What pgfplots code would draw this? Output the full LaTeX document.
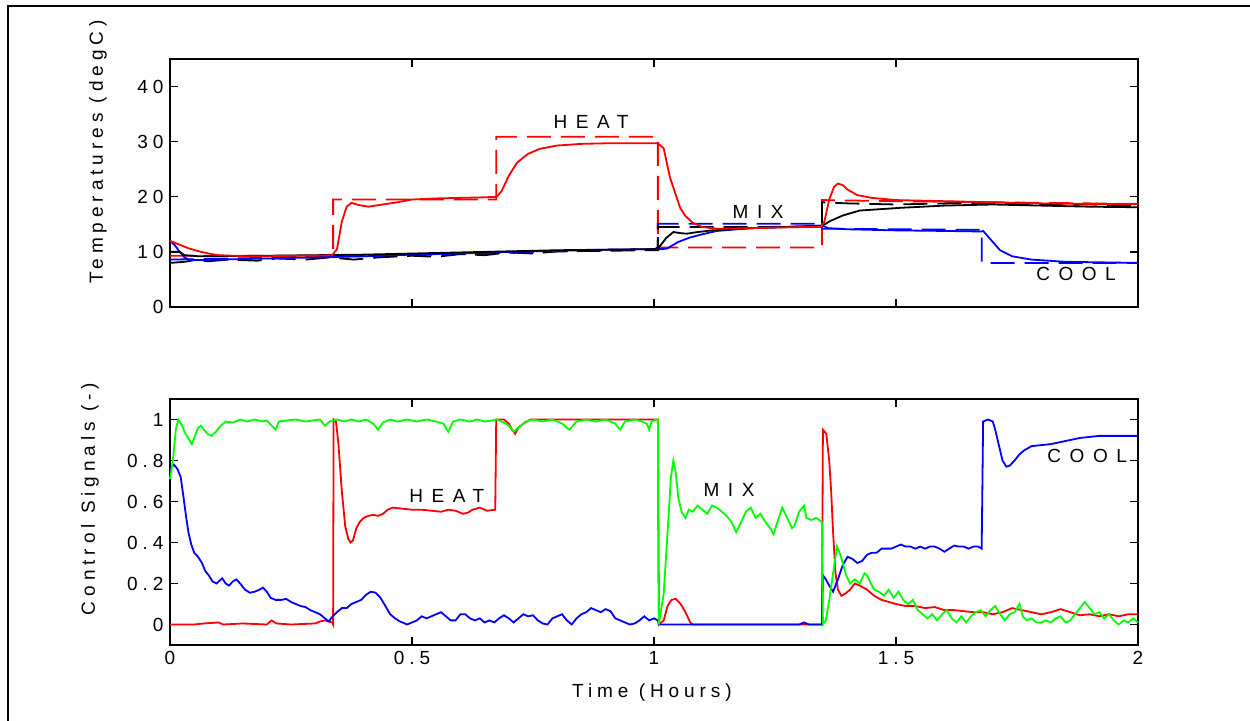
\documentclass[border=0pt]{standalone}
\usepackage{fontspec}
\setmainfont{Liberation Sans}[LetterSpace=26]
\newfontfamily\ann{Liberation Sans}[LetterSpace=45]
\usepackage{pgfplots}
\pgfplotsset{compat=1.18}
\definecolor{Rd}{HTML}{FF0000}
\definecolor{Bl}{HTML}{0000FF}
\definecolor{Gr}{HTML}{00FF00}

\tikzset{lab/.style={font=\ann\fontsize{19bp}{22bp}\selectfont}}
\pgfplotsset{
  panel/.style={
    scale only axis, width=968bp, xmin=0, xmax=2,
    axis line style={line width=2.4bp},
    tick style={line width=1.3bp, black},
    major tick length=8bp, tick align=inside,
    xtick={0,0.5,1,1.5,2},
    /pgf/number format/assume math mode=true,
    tick label style={font=\fontsize{19bp}{22bp}\selectfont},
    every axis plot/.append style={line width=1.8bp},
    clip=false,
  },
  sp/.style={dash pattern=on 24bp off 10bp},
}

\begin{document}
\fontsize{19bp}{22bp}\selectfont
\begin{tikzpicture}
\path[use as bounding box] (0,0) rectangle (1250bp,721bp);
\draw[line width=2.5bp] (8bp,-10bp) -- (8bp,715bp) -- (1260bp,715bp);

% temperatures
\begin{axis}[panel, at={(170bp,414bp)}, anchor=south west, height=248bp,
  ymin=0, ymax=45, ytick={0,10,20,30,40}, xticklabels={}]
\addplot[Rd, sp] coordinates {(0,9.3) (0.337,9.3) (0.337,19.5) (0.674,19.5) (0.674,30.9) (1.008,30.9) (1.008,10.8) (1.347,10.8) (1.347,19.4) (1.5,19.2) (2,18.7)};
\addplot[Bl, sp] coordinates {(0,8.6) (0.5,9.4) (1.0,10.5) (1.008,10.5) (1.008,15.1) (1.347,15.1) (1.347,14.2) (1.677,14.0) (1.677,8.0) (2,8.0)};
\addplot[black, sp] coordinates {(0,8.0) (0.03,8.2) (0.05,8.5) (0.08,8.3) (0.12,8.6) (0.18,8.4) (0.22,8.8) (0.28,8.6) (0.33,9.0) (0.38,8.6) (0.43,9.0) (0.5,9.3) (0.55,9.1) (0.6,9.6) (0.65,9.4) (0.7,9.9) (0.75,9.7) (0.8,10.1) (0.9,10.2) (1.0,10.3) (1.008,10.3) (1.008,14.5) (1.2,14.5) (1.347,14.6) (1.347,19.0) (1.4,18.8) (1.5,18.6) (1.6,18.8) (1.7,18.9) (1.8,18.5) (1.9,18.6) (2,18.4)};
\addplot[Bl] coordinates {(0,12.0) (0.01,11.2) (0.02,10.0) (0.03,9.0) (0.04,8.5) (0.1,8.6) (0.2,8.8) (0.3,9.0) (0.4,9.2) (0.5,9.5) (0.6,9.7) (0.7,10.0) (0.8,10.2) (0.9,10.4) (1.0,10.5) (1.015,10.5) (1.027,10.6) (1.05,11.8) (1.074,12.6) (1.1,13.2) (1.13,13.8) (1.2,14.3) (1.3,14.6) (1.347,14.8) (1.36,14.3) (1.4,14.1) (1.5,13.9) (1.6,13.8) (1.677,13.7) (1.68,13.8) (1.69,12.8) (1.7,11.8) (1.715,10.3) (1.74,9.2) (1.78,8.6) (1.85,8.2) (2,8.0)};
\addplot[black] coordinates {(0,10.0) (0.02,10.0) (0.03,9.4) (0.06,9.2) (0.2,9.3) (0.3,9.4) (0.4,9.5) (0.5,9.7) (0.6,9.9) (0.7,10.1) (0.8,10.3) (0.9,10.4) (1.0,10.5) (1.01,10.8) (1.025,12.5) (1.04,13.6) (1.055,13.4) (1.068,13.3) (1.09,13.6) (1.12,13.9) (1.2,14.3) (1.3,14.6) (1.347,14.7) (1.364,15.6) (1.39,16.6) (1.425,17.5) (1.51,18.0) (1.6,18.4) (1.7,18.6) (1.8,18.4) (1.9,18.2) (2,18.1)};
\addplot[Rd] coordinates {(0,12.0) (0.02,11.3) (0.04,10.6) (0.06,10.1) (0.08,9.7) (0.1,9.4) (0.13,9.3) (0.16,9.2) (0.2,9.2) (0.25,9.3) (0.3,9.3) (0.335,9.4) (0.345,10.5) (0.355,15.5) (0.365,18.2) (0.375,18.9) (0.39,18.5) (0.41,18.2) (0.44,18.6) (0.47,19.0) (0.5,19.5) (0.55,19.7) (0.6,19.8) (0.65,19.9) (0.675,20.0) (0.685,21.0) (0.7,23.8) (0.717,26.2) (0.74,27.8) (0.764,28.7) (0.8,29.3) (0.85,29.6) (0.9,29.7) (1.0,29.7) (1.008,29.7) (1.02,28.8) (1.033,23.5) (1.054,18.0) (1.065,16.5) (1.08,15.3) (1.1,14.5) (1.13,14.2) (1.2,14.3) (1.3,14.5) (1.345,14.5) (1.352,15.5) (1.362,19.5) (1.372,21.8) (1.38,22.4) (1.39,22.1) (1.4,21.3) (1.42,20.3) (1.45,19.8) (1.5,19.4) (1.6,19.2) (1.7,19.0) (1.8,18.8) (1.9,18.7) (2,18.7)};
\node[lab] at (axis cs:0.87,33.5) {HEAT};
\node[lab] at (axis cs:1.215,17.3) {MIX};
\node[lab] at (axis cs:1.872,6.0) {COOL};
\end{axis}

% control signals
\begin{axis}[panel, at={(170bp,76bp)}, anchor=south west, height=246bp,
  ymin=-0.1, ymax=1.1, ytick={0,0.2,0.4,0.6,0.8,1},
  yticklabels={0,0.2,0.4,0.6,0.8,1}, xticklabels={0,0.5,1,1.5,2}]
\addplot[Rd] coordinates {(0,0) (0.05,0) (0.07,0.005) (0.1,0.01) (0.11,0) (0.15,0.005) (0.2,0) (0.21,0.02) (0.22,0.005) (0.25,0) (0.3,0.005) (0.31,0.015) (0.32,0.02) (0.335,0.01) (0.337,0) (0.338,1.0) (0.343,0.99) (0.348,0.88) (0.355,0.65) (0.362,0.48) (0.368,0.42) (0.373,0.40) (0.378,0.41) (0.385,0.47) (0.392,0.5) (0.4,0.52) (0.41,0.53) (0.42,0.535) (0.43,0.53) (0.44,0.54) (0.45,0.56) (0.46,0.57) (0.48,0.565) (0.5,0.56) (0.52,0.56) (0.54,0.555) (0.56,0.55) (0.575,0.56) (0.59,0.555) (0.605,0.54) (0.615,0.545) (0.625,0.56) (0.64,0.57) (0.655,0.555) (0.672,0.56) (0.674,1.0) (0.69,1.0) (0.7,0.98) (0.707,0.95) (0.713,0.93) (0.72,0.96) (0.73,0.98) (0.745,1.0) (1.008,1.0) (1.01,0) (1.02,0.02) (1.028,0.09) (1.036,0.12) (1.045,0.125) (1.055,0.1) (1.065,0.06) (1.075,0.01) (1.08,0) (1.347,0) (1.349,0.95) (1.356,0.93) (1.362,0.8) (1.366,0.65) (1.37,0.45) (1.375,0.25) (1.38,0.17) (1.387,0.14) (1.395,0.15) (1.405,0.17) (1.415,0.2) (1.425,0.19) (1.44,0.17) (1.455,0.14) (1.47,0.12) (1.485,0.11) (1.5,0.1) (1.52,0.09) (1.54,0.09) (1.56,0.08) (1.58,0.085) (1.6,0.07) (1.62,0.07) (1.64,0.065) (1.66,0.06) (1.68,0.06) (1.7,0.05) (1.72,0.06) (1.74,0.08) (1.76,0.07) (1.78,0.06) (1.8,0.05) (1.82,0.06) (1.84,0.075) (1.86,0.06) (1.88,0.045) (1.9,0.05) (1.92,0.04) (1.94,0.05) (1.96,0.04) (1.98,0.05) (2,0.05)};
\addplot[Bl] coordinates {(0,0.76) (0.008,0.78) (0.015,0.76) (0.022,0.72) (0.028,0.62) (0.033,0.53) (0.038,0.45) (0.044,0.39) (0.05,0.35) (0.058,0.33) (0.066,0.3) (0.073,0.26) (0.08,0.24) (0.088,0.21) (0.096,0.2) (0.103,0.215) (0.108,0.225) (0.115,0.2) (0.122,0.19) (0.13,0.21) (0.137,0.22) (0.145,0.2) (0.155,0.17) (0.165,0.155) (0.175,0.16) (0.185,0.17) (0.192,0.18) (0.2,0.16) (0.208,0.13) (0.218,0.12) (0.23,0.12) (0.24,0.125) (0.25,0.11) (0.26,0.1) (0.27,0.09) (0.28,0.085) (0.29,0.07) (0.3,0.06) (0.31,0.05) (0.32,0.03) (0.328,0.015) (0.336,0.04) (0.345,0.06) (0.355,0.08) (0.365,0.08) (0.375,0.1) (0.385,0.11) (0.395,0.12) (0.405,0.145) (0.415,0.16) (0.425,0.155) (0.435,0.13) (0.445,0.09) (0.455,0.05) (0.465,0.03) (0.475,0.015) (0.49,0) (0.5,0.01) (0.51,0.02) (0.52,0.04) (0.53,0.03) (0.54,0.04) (0.55,0.05) (0.56,0.06) (0.57,0.04) (0.58,0.02) (0.59,0.02) (0.6,0.05) (0.61,0.05) (0.62,0.03) (0.63,0.02) (0.64,0.03) (0.65,0.01) (0.66,0.02) (0.67,0.01) (0.68,0.03) (0.69,0.045) (0.7,0.03) (0.71,0.01) (0.72,0.03) (0.73,0.05) (0.74,0.04) (0.75,0.045) (0.76,0.02) (0.77,0.005) (0.78,0) (0.79,0.03) (0.8,0.04) (0.81,0.05) (0.82,0.02) (0.83,0) (0.84,0.03) (0.85,0.05) (0.86,0.06) (0.87,0.08) (0.88,0.07) (0.89,0.06) (0.9,0.075) (0.91,0.065) (0.92,0.03) (0.93,0.02) (0.94,0.01) (0.95,0) (0.96,0.005) (0.97,0.02) (0.98,0.04) (0.99,0.02) (1.0,0.03) (1.008,0.02) (1.01,0) (1.3,0) (1.31,0.01) (1.32,0) (1.347,0) (1.349,0.24) (1.355,0.22) (1.362,0.19) (1.37,0.16) (1.38,0.22) (1.39,0.29) (1.4,0.33) (1.41,0.32) (1.42,0.3) (1.43,0.31) (1.44,0.34) (1.45,0.35) (1.46,0.35) (1.47,0.37) (1.48,0.37) (1.49,0.37) (1.5,0.38) (1.51,0.39) (1.52,0.38) (1.53,0.38) (1.54,0.37) (1.55,0.38) (1.56,0.37) (1.57,0.38) (1.58,0.38) (1.59,0.37) (1.6,0.355) (1.61,0.37) (1.62,0.385) (1.63,0.38) (1.64,0.38) (1.65,0.37) (1.66,0.38) (1.67,0.38) (1.677,0.37) (1.68,0.99) (1.69,1.0) (1.7,0.99) (1.705,0.95) (1.712,0.88) (1.72,0.8) (1.728,0.77) (1.735,0.775) (1.745,0.8) (1.755,0.83) (1.765,0.85) (1.78,0.87) (1.8,0.875) (1.82,0.88) (1.84,0.89) (1.86,0.9) (1.88,0.91) (1.9,0.915) (1.92,0.92) (1.94,0.92) (1.96,0.92) (1.98,0.92) (2,0.92)};
\addplot[Gr] coordinates {(0,0.71) (0.006,0.8) (0.012,0.95) (0.017,1.0) (0.025,0.97) (0.032,0.93) (0.04,0.9) (0.045,0.88) (0.05,0.91) (0.058,0.96) (0.064,0.97) (0.07,0.95) (0.078,0.93) (0.086,0.92) (0.095,0.94) (0.105,0.97) (0.115,0.99) (0.13,0.985) (0.145,1.0) (0.16,0.99) (0.175,1.0) (0.19,0.99) (0.2,0.995) (0.21,0.97) (0.218,0.95) (0.225,0.99) (0.24,0.995) (0.26,1.0) (0.28,0.99) (0.295,0.995) (0.31,1.0) (0.32,0.97) (0.33,0.99) (0.345,1.0) (0.36,0.99) (0.375,1.0) (0.39,0.99) (0.405,1.0) (0.42,0.98) (0.43,0.95) (0.44,0.985) (0.455,1.0) (0.47,0.99) (0.49,1.0) (0.51,0.99) (0.53,1.0) (0.55,0.99) (0.565,0.98) (0.575,0.94) (0.585,0.99) (0.6,1.0) (0.62,0.99) (0.635,1.0) (0.65,0.99) (0.665,0.995) (0.675,1.0) (0.69,0.985) (0.7,0.97) (0.71,0.94) (0.72,0.96) (0.735,0.99) (0.75,1.0) (0.77,0.99) (0.79,1.0) (0.81,0.98) (0.825,0.95) (0.84,0.99) (0.86,1.0) (0.88,0.99) (0.9,1.0) (0.92,0.98) (0.93,0.95) (0.94,0.99) (0.96,1.0) (0.975,0.99) (0.985,0.98) (0.99,0.95) (0.995,0.99) (1.005,1.0) (1.008,1.0) (1.01,0) (1.02,0.15) (1.028,0.45) (1.035,0.72) (1.04,0.8) (1.045,0.74) (1.05,0.62) (1.057,0.55) (1.065,0.52) (1.072,0.56) (1.08,0.55) (1.09,0.58) (1.1,0.56) (1.11,0.54) (1.12,0.58) (1.13,0.57) (1.14,0.55) (1.15,0.53) (1.16,0.5) (1.17,0.45) (1.18,0.5) (1.19,0.55) (1.2,0.57) (1.21,0.52) (1.22,0.54) (1.23,0.5) (1.24,0.47) (1.247,0.44) (1.255,0.5) (1.265,0.57) (1.275,0.52) (1.285,0.47) (1.29,0.48) (1.3,0.55) (1.31,0.58) (1.315,0.52) (1.325,0.51) (1.335,0.52) (1.347,0.5) (1.349,0) (1.355,0.02) (1.362,0.12) (1.37,0.25) (1.378,0.38) (1.385,0.34) (1.39,0.3) (1.397,0.24) (1.405,0.2) (1.415,0.22) (1.425,0.2) (1.435,0.25) (1.44,0.24) (1.448,0.2) (1.455,0.17) (1.465,0.16) (1.475,0.14) (1.485,0.17) (1.495,0.13) (1.505,0.16) (1.515,0.12) (1.525,0.1) (1.535,0.12) (1.545,0.07) (1.555,0.05) (1.565,0.03) (1.575,0.05) (1.585,0.02) (1.595,0.05) (1.605,0.07) (1.615,0.03) (1.625,0.01) (1.635,0.04) (1.645,0.01) (1.655,0.04) (1.665,0.06) (1.675,0.07) (1.685,0.04) (1.695,0.07) (1.705,0.09) (1.715,0.05) (1.725,0.02) (1.735,0.05) (1.745,0.06) (1.755,0.1) (1.762,0.04) (1.77,0.02) (1.78,0.03) (1.79,0.01) (1.8,0.01) (1.81,0.02) (1.82,0.01) (1.83,0.03) (1.84,0.04) (1.85,0.01) (1.86,0.02) (1.87,0.05) (1.88,0.08) (1.89,0.11) (1.9,0.08) (1.91,0.05) (1.92,0.06) (1.93,0.03) (1.94,0.05) (1.95,0.02) (1.96,0) (1.97,0.02) (1.98,0.01) (1.99,0.03) (2,0.01)};
\node[lab] at (axis cs:0.572,0.626) {HEAT};
\node[lab] at (axis cs:1.155,0.655) {MIX};
\node[lab] at (axis cs:1.895,0.82) {COOL};
\end{axis}

\node[rotate=90] at (98bp,569bp) {Temperatures (degC)};
\node[rotate=90] at (90bp,222bp) {Control Signals (-)};
\node at (652bp,28bp) {Time (Hours)};
\end{tikzpicture}
\end{document}
